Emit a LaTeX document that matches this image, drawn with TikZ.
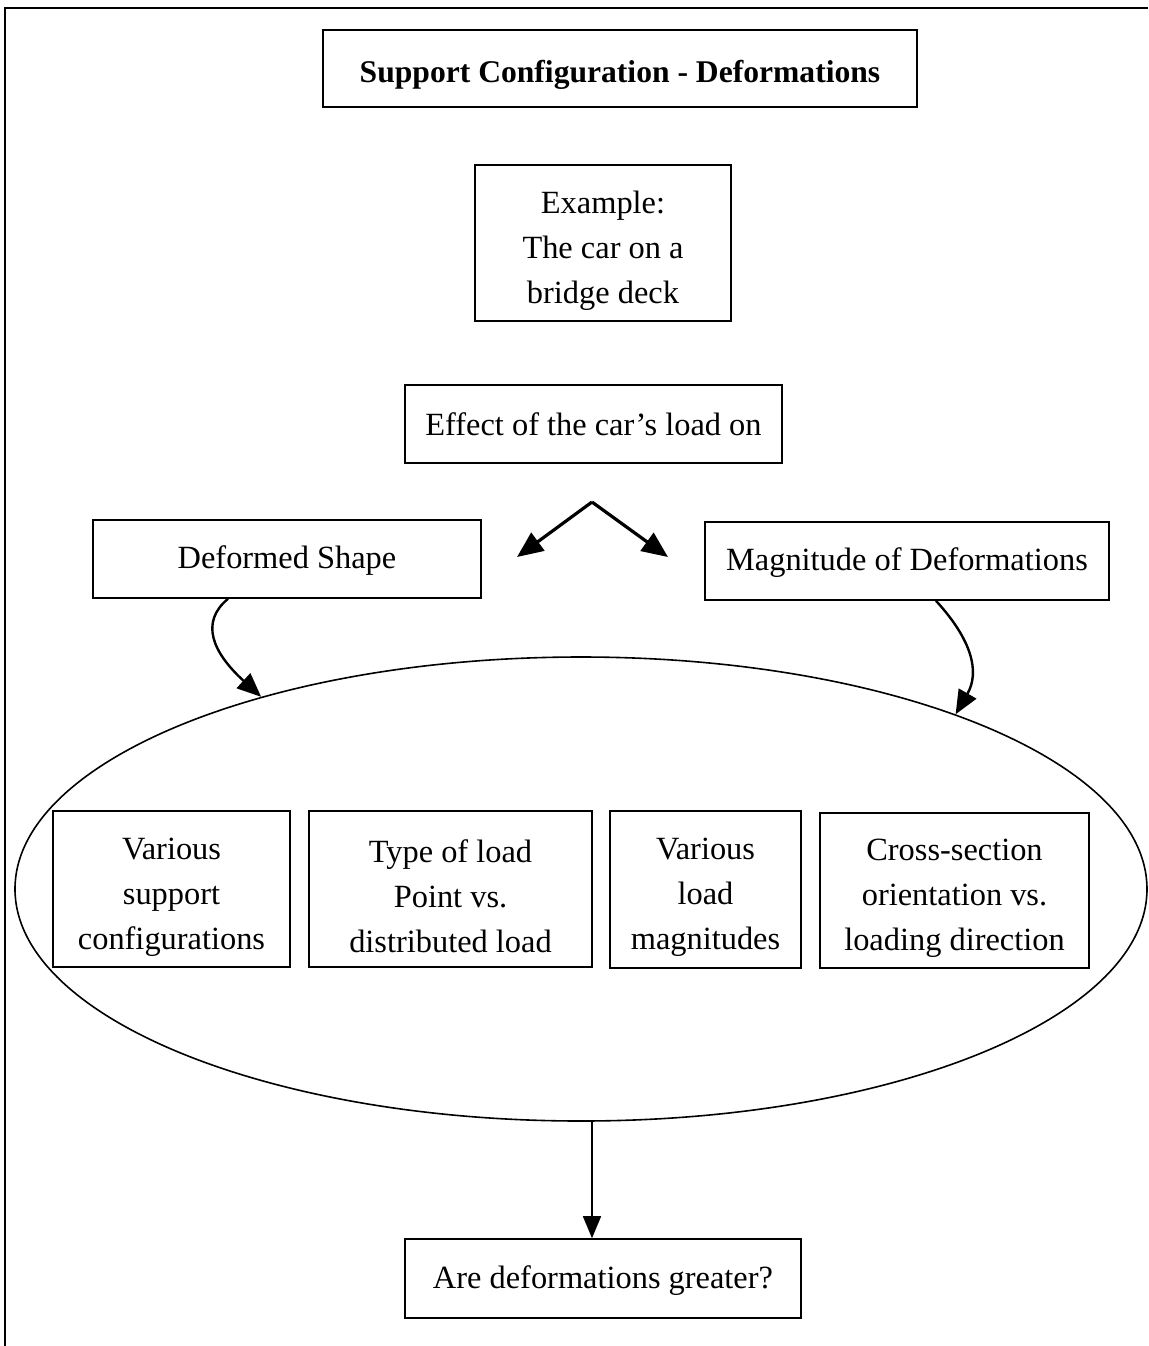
\documentclass[tikz,border=0pt]{standalone}
\usepackage{fontspec}
\setmainfont{Liberation Serif}
\usetikzlibrary{shapes.geometric,arrows.meta}
\newcommand{\firstline}{\rule{0pt}{18.5pt}}
\begin{document}
\begin{tikzpicture}[x=0.5pt,y=-0.5pt,
  box/.style={draw,line width=0.8pt,inner sep=0pt,align=center,font=\fontsize{16.2}{22.5}\selectfont},
  bigarrow/.style={line width=1.6pt,-{Triangle[length=13pt,width=11pt]}},
  curvearrow/.style={line width=1.2pt,-{Triangle[length=12pt,width=10pt]}},
  thinarrow/.style={line width=0.8pt,-{Triangle[length=11pt,width=9pt]}}]
\useasboundingbox (0,0) rectangle (1148,1346);
% outer frame (partly visible)
\draw[line width=0.8pt] (5,1346) -- (5,8) -- (1148,8);
% boxes
\node[box,minimum width=297pt,minimum height=38.5pt,font=\fontsize{15.8}{22.5}\selectfont\bfseries] (title) at (620,68.5) {\rule{0pt}{17pt}Support Configuration - Deformations};
\node[box,minimum width=128pt,minimum height=78pt] (ex) at (603,243) {\firstline Example:\\The car on a\\bridge deck};
\node[box,minimum width=188.5pt,minimum height=39pt] (eff) at (593.5,424) {Effect of the car's load on};
\node[box,minimum width=194pt,minimum height=39pt] (ds) at (287,559) {\rule{0pt}{13pt}Deformed Shape};
\node[box,minimum width=202pt,minimum height=39pt] (mag) at (907,561) {\rule{0pt}{13pt}Magnitude of Deformations};
\node[draw,line width=0.8pt,ellipse,minimum width=566pt,minimum height=232pt,inner sep=0pt] (ell) at (581,889) {};
\node[box,minimum width=118.5pt,minimum height=78pt] (b1) at (171.5,889) {\firstline Various\\support\\configurations};
\node[box,minimum width=141.5pt,minimum height=78pt] (b2) at (450.5,889) {\firstline Type of load\\Point vs.\\distributed load};
\node[box,minimum width=95.5pt,minimum height=78.5pt] (b3) at (705.5,889.5) {\firstline Various\\load\\magnitudes};
\node[box,minimum width=134.5pt,minimum height=77.5pt] (b4) at (954.5,890.5) {\firstline Cross-section\\orientation vs.\\loading direction};
\node[box,minimum width=198pt,minimum height=39.5pt] (ad) at (603,1278.5) {\rule{0pt}{13pt}Are deformations greater?};
% fork arrows
\coordinate (apex) at (592,502);
\coordinate (forkL) at (517,557);
\coordinate (forkR) at (668,557);
\draw[bigarrow] (apex) -- (forkL);
\draw[bigarrow] (apex) -- (forkR);
% curved arrows
\draw[curvearrow] ([xshift=-29.5pt]ds.south) .. controls (200,622) and (212,652) .. (ell.149);
\draw[curvearrow] ([xshift=14.5pt]mag.south) .. controls (972,640) and (980,672) .. (ell.25);
% vertical arrow
\coordinate (vtop) at (592,1121);
\draw[thinarrow] (vtop) -- (vtop |- ad.north);
\end{tikzpicture}
\end{document}
